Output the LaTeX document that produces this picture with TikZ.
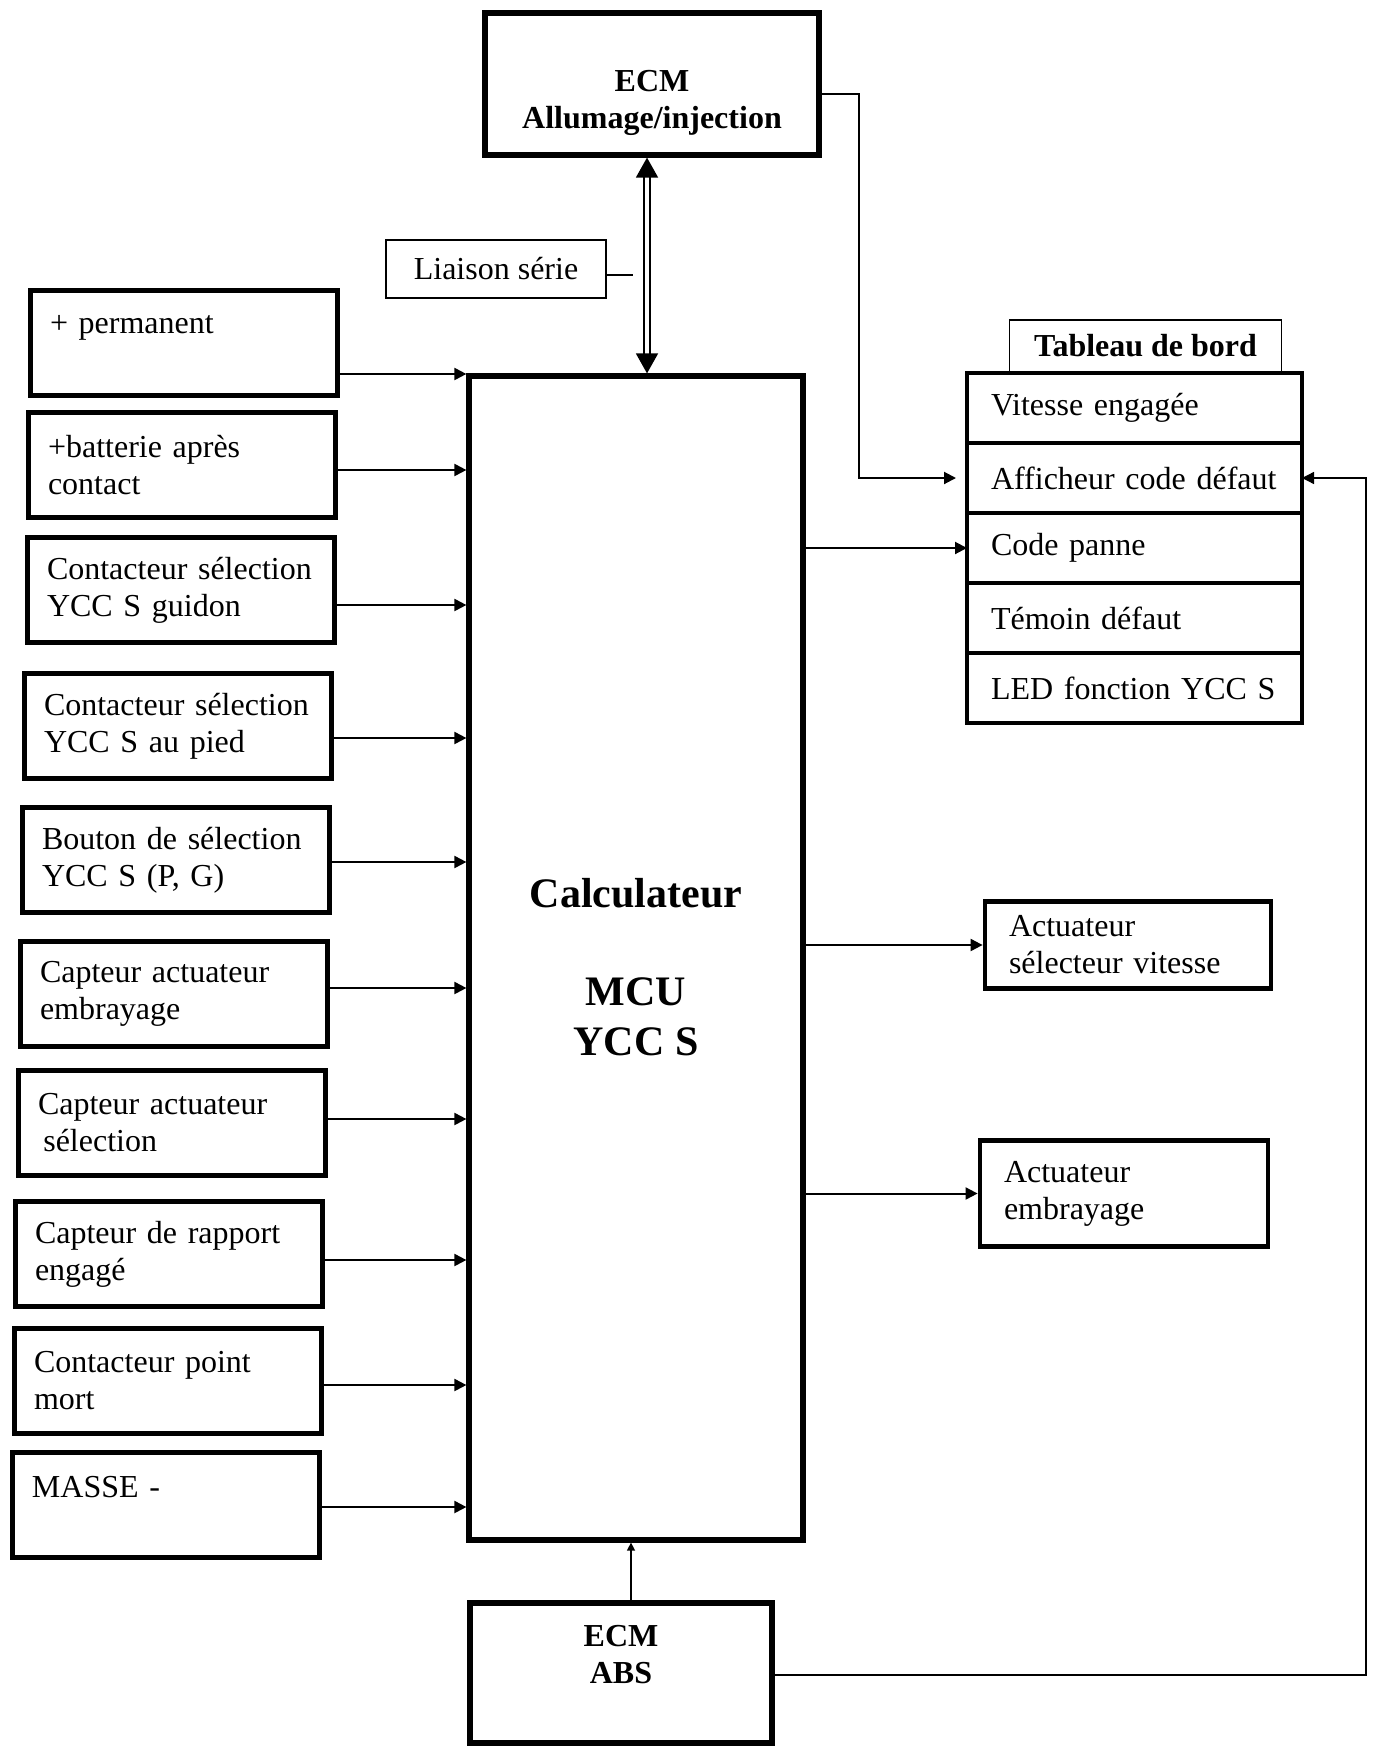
\documentclass[tikz,border=0pt]{standalone}
\usepackage{fontspec}
\setmainfont{Liberation Serif}
\usetikzlibrary{arrows.meta,positioning}

\begin{document}
\begin{tikzpicture}[x=0.5pt,y=-0.5pt,
  txt/.style={font=\fontsize{16}{18.5}\selectfont},
  boldtxt/.style={font=\fontsize{16}{18.5}\selectfont\bfseries,align=center},
  inbox/.style={txt,draw,line width=2.4pt,anchor=north west,minimum width=153.6pt,minimum height=52.6pt,text width=134pt,inner xsep=9.8pt,align=left},
  rowbox/.style={txt,draw,line width=2.4pt,outer sep=0pt,minimum height=35pt,text width=143.5pt,inner xsep=12pt,align=left},
  actbox/.style={txt,draw,line width=2.4pt,inner xsep=12pt,align=left},
  thinbox/.style={draw,line width=0.6pt},
  arr/.style={line width=1pt,-{Triangle[width=6pt,length=6pt]}},
  thinarr/.style={line width=0.7pt,-{Triangle[width=6pt,length=6pt]}}]

\useasboundingbox (0,0) rectangle (1396,1749);

% ECM allumage/injection
\node[draw,line width=2.6pt,minimum width=167pt,minimum height=71pt] (ecm) at (652,84) {};
\node[boldtxt] (ecmtxt) at (652,103) {ECM\\Allumage/injection};

% Liaison serie
\node[thinbox,txt,minimum width=110pt,minimum height=29pt] (liaison) at (496,269) {Liaison série};
\coordinate (lsend) at (633,275);
\draw[line width=0.6pt] (liaison.east |- lsend) -- (lsend);

% Calculateur
\node[draw,line width=2.6pt,minimum width=167pt,minimum height=582pt] (calc) at (636,958) {};
\node[font=\fontsize{21}{25}\selectfont\bfseries,align=center] (calctxt) at (636,967)
  {Calculateur\\[24pt]MCU\\YCC S};

% Liaison ECM <-> calculateur
\draw[double,double distance=2pt,line width=0.8pt,
  {Triangle[width=11pt,length=10pt]}-{Triangle[width=11pt,length=10pt]}]
  ([xshift=-2.5pt]ecm.south) -- ([xshift=-2.5pt]ecm.south |- calc.north);

% Entrees
\node[inbox] (in1) at (28,288) {+ permanent\\~};
\node[inbox] (in2) at (26,410) {+batterie après\\contact};
\node[inbox] (in3) at (25,535) {Contacteur sélection\\YCC S guidon};
\node[inbox] (in4) at (22,671) {Contacteur sélection\\YCC S au pied};
\node[inbox] (in5) at (20,805) {Bouton de sélection\\YCC S (P, G)};
\node[inbox] (in6) at (18,939) {Capteur actuateur\\embrayage};
\node[inbox] (in7) at (16,1068) {Capteur actuateur\\\,sélection};
\node[inbox] (in8) at (13,1199) {Capteur de rapport\\engagé};
\node[inbox] (in9) at (12,1326) {Contacteur point\\mort};
\node[inbox] (in10) at (10,1450) {MASSE -\\~};

\draw[arr] (in1.east |- 0,374) -- (calc.west |- 0,374);
\draw[arr] (in2.east |- 0,470) -- (calc.west |- 0,470);
\draw[arr] (in3.east |- 0,605) -- (calc.west |- 0,605);
\draw[arr] (in4.east |- 0,738) -- (calc.west |- 0,738);
\draw[arr] (in5.east |- 0,862) -- (calc.west |- 0,862);
\draw[arr] (in6.east |- 0,988) -- (calc.west |- 0,988);
\draw[arr] (in7.east |- 0,1119) -- (calc.west |- 0,1119);
\draw[arr] (in8.east |- 0,1260) -- (calc.west |- 0,1260);
\draw[arr] (in9.east |- 0,1385) -- (calc.west |- 0,1385);
\draw[arr] (in10.east |- 0,1507) -- (calc.west |- 0,1507);

% Tableau de bord
\node[thinbox,boldtxt,minimum width=136pt,minimum height=26pt] (tab) at (1145.5,346) {Tableau de bord};
\node[rowbox] (vit) at (1134.5,408) {Vitesse engagée};
\node[rowbox,below=0pt of vit] (aff) {Afficheur code défaut};
\node[rowbox,below=0pt of aff] (code) {Code panne};
\node[rowbox,below=0pt of code] (tem) {Témoin défaut};
\node[rowbox,below=0pt of tem] (led) {LED fonction YCC S};

\draw[arr] (ecm.east |- 0,94) -| ([xshift=-54pt]aff.west) -- ([xshift=-5.5pt]aff.west);
\draw[arr] (calc.east |- code.west) -- (code.west);

% Actuateurs
\node[actbox,text width=119pt,minimum height=43.6pt] (act1) at (1128,945) {Actuateur\\sélecteur vitesse};
\node[actbox,text width=120pt,minimum height=53pt] (act2) at (1124,1193.5) {Actuateur\\embrayage};

\draw[arr] (calc.east |- act1.west) -- (act1.west);
\draw[arr] (calc.east |- act2.west) -- (act2.west);

% ECM ABS
\node[draw,line width=2.8pt,minimum width=151pt,minimum height=70pt] (abs) at (621,1673) {};
\node[boldtxt] (abstxt) at (621,1655) {ECM\\ABS};

\draw[line width=0.7pt,-{Triangle[width=4pt,length=4pt]}] ([xshift=5pt]abs.north) -- ([xshift=5pt]abs.north |- calc.south);
\draw[thinarr] (abs.east |- 0,1675) -| ([xshift=32pt]aff.east) -- (aff.east);

\end{tikzpicture}
\end{document}
